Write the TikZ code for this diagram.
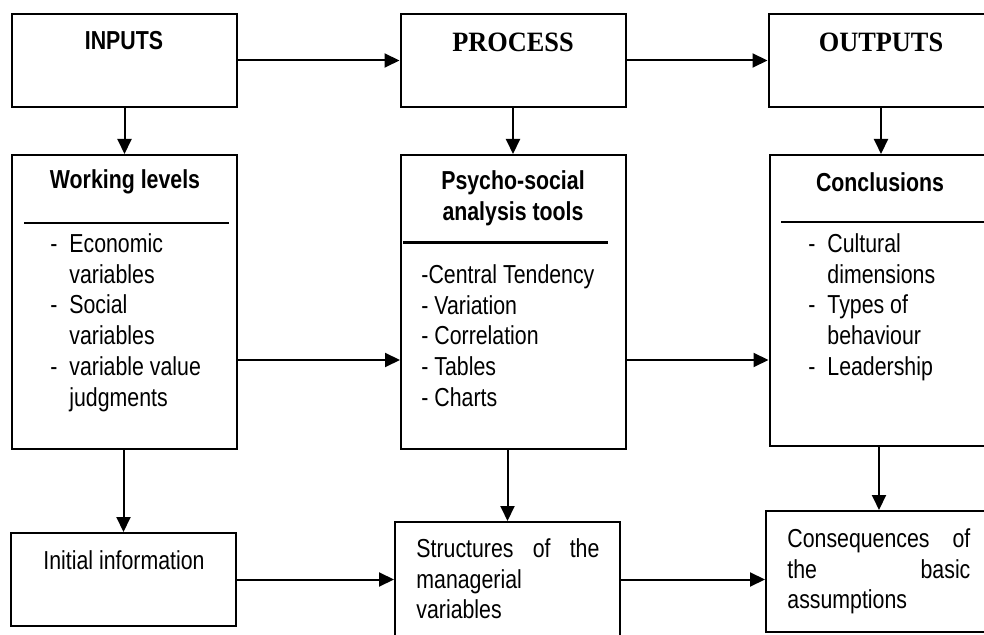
\documentclass[tikz,border=0pt]{standalone}
\usepackage{fontspec}
\setmainfont{Liberation Sans}[FakeStretch=0.82]
\newfontfamily\headserif{Liberation Serif}[FakeStretch=0.94]
\usepackage{tikz}
\usetikzlibrary{positioning}
\usetikzlibrary{arrows.meta}
\newcommand{\dashitem}[1]{\makebox[9.5pt][l]{-}#1}
\newcommand{\hangline}[1]{\hspace*{9.5pt}#1}

\begin{document}
\begin{tikzpicture}[x=0.5pt, y=-0.5pt,
  box/.style = {draw, line width=1pt, inner sep=0pt, minimum width=112.5pt},
  head/.style = {font=\fontsize{13}{15.4}\selectfont\bfseries},
  serifhead/.style = {font=\headserif\fontsize{14}{17}\selectfont\bfseries},
  list/.style = {align=left, inner sep=0pt, anchor=north west, font=\fontsize{13}{15.4}\selectfont},
  arr/.style = {-{Triangle[length=7.5pt, width=7pt]}, line width=1pt}]
\useasboundingbox (0,0) rectangle (984,635);
\clip (0,0) rectangle (984,635);
% top row
\node[box, minimum height=46.5pt] (inputs) at (124.5,60.5) {};
\node[box, minimum height=46.5pt] (process) at (513,60.5) {};
\node[box, minimum height=46.5pt] (outputs) at (881,60.5) {};
\node[head] (inputs-t) at (124,41) {INPUTS};
\node[serifhead] (process-t) at (513,42) {PROCESS};
\node[serifhead] (outputs-t) at (881,42) {OUTPUTS};
% middle row
\node[box, minimum height=147pt] (work) at (124.5,302) {};
\node[box, minimum height=147pt] (tools) at (513.5,302) {};
\node[box, minimum height=145.5pt] (concl) at (882,300.5) {};
\node[head] (work-t) at (125,182) {Working levels};
\node[head, align=center] (tools-t) at (513,198) {Psycho-social\\analysis tools};
\node[head] (concl-t) at (880,182) {Conclusions};
\draw[line width=1pt] (24,223) -- (229,223);
\draw[line width=1.5pt] (403,243) -- (608,243);
\draw[line width=1pt] (781,222) -- (1000,222);
\node[list] (work-l) at (50,233) {\dashitem{Economic}\\\hangline{variables}\\\dashitem{Social}\\\hangline{variables}\\\dashitem{variable value}\\\hangline{judgments}};
\node[list] (tools-l) at (421,264) {-Central Tendency\\- Variation\\- Correlation\\- Tables\\- Charts};
\node[list] (concl-l) at (808,233) {\dashitem{Cultural}\\\hangline{dimensions}\\\dashitem{Types of}\\\hangline{behaviour}\\\dashitem{Leadership}};
% bottom row
\node[box, minimum height=46.5pt] (initial) at (123.5,579.5) {};
\node[box, minimum height=60pt] (struct) at (507.5,582) {};
\node[box, minimum width=113pt, minimum height=60.5pt] (conseq) at (879,571.5) {};
\node[font=\fontsize{13}{15.4}\selectfont] (initial-t) at (124,560) {Initial information};
\node[list] (struct-l) at (416,538) {\makebox[91.5pt][s]{Structures of the}\\managerial\\variables};
\node[list] (conseq-l) at (787,528) {\makebox[91.5pt][s]{Consequences of}\\\makebox[91.5pt][s]{the basic}\\assumptions};
% connectors
\coordinate (midrow) at (0,360);
\path (inputs) edge [arr] (process);
\path (process) edge [arr] (outputs);
\path (inputs) edge [arr] (work);
\path (process.south) edge [arr] (process.south |- tools.north);
\path (outputs.south) edge [arr] (outputs.south |- concl.north);
\path (work.east |- midrow) edge [arr] (tools.west |- midrow);
\path (tools.east |- midrow) edge [arr] (concl.west |- midrow);
\path (initial.north |- work.south) edge [arr] (initial.north);
\path (struct.north |- tools.south) edge [arr] (struct.north);
\path (conseq.north |- concl.south) edge [arr] (conseq.north);
\path (initial) edge [arr] (struct.west |- initial);
\path (struct.east |- initial) edge [arr] (conseq.west |- initial);
\end{tikzpicture}
\end{document}
